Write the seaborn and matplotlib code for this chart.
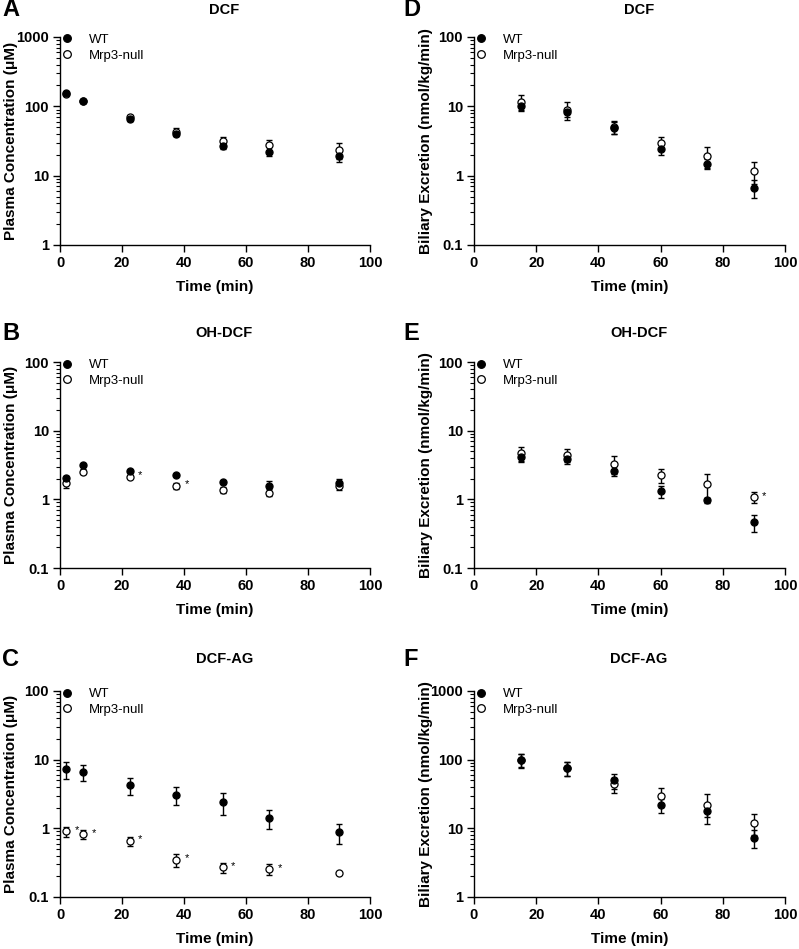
import numpy as np
import pandas as pd
import matplotlib
matplotlib.use("Agg")
import matplotlib.pyplot as plt
from matplotlib.lines import Line2D
from matplotlib.ticker import FuncFormatter, LogLocator, NullFormatter
import seaborn as sns

sns.set_theme(style="ticks")
plt.rcParams['font.family'] = ['Liberation Sans', 'DejaVu Sans']
plt.rcParams['text.color'] = 'black'
plt.rcParams['axes.labelcolor'] = 'black'
plt.rcParams['xtick.color'] = 'black'
plt.rcParams['ytick.color'] = 'black'

# sampling times
t_plasma = [2, 7.5, 22.5, 37.5, 52.5, 67.5, 90]
t_bile = [15, 30, 45, 60, 75, 90]

# A: DCF plasma
dcf_p_wt = [155, 120, 65, 40, 27, 22.3, 19.5]
dcf_p_wt_sem = [5, 4, 4, 3, 2.5, 3.4, 3.5]
dcf_p_ko = [150, 118, 70, 43, 32, 27.8, 23.5]
dcf_p_ko_sem = [6, 5, 4, 5, 4.5, 5, 6]

# B: OH-DCF plasma
oh_p_wt = [2.02, 3.16, 2.61, 2.26, 1.77, 1.58, 1.73]
oh_p_wt_sem = [0.18, 0.15, 0.1, 0.08, 0.1, 0.27, 0.22]
oh_p_ko = [1.75, 2.53, 2.14, 1.58, 1.37, 1.25, 1.58]
oh_p_ko_sem = [0.28, 0.2, 0.1, 0.15, 0.13, 0.15, 0.22]

# C: DCF-AG plasma
ag_p_wt = [7.2, 6.65, 4.25, 3.07, 2.4, 1.42, 0.88]
ag_p_wt_sem = [2.0, 1.8, 1.2, 0.9, 0.85, 0.45, 0.28]
ag_p_ko = [0.9, 0.82, 0.66, 0.35, 0.27, 0.256, 0.224]
ag_p_ko_sem = [0.16, 0.13, 0.1, 0.08, 0.045, 0.05, 0.005]

# D: DCF bile
dcf_b_wt = [10.2, 8.15, 4.95, 2.44, 1.48, 0.67]
dcf_b_wt_sem = [1.2, 1.2, 1.0, 0.45, 0.25, 0.2]
dcf_b_ko = [11.5, 8.9, 5.1, 3.0, 1.95, 1.17]
dcf_b_ko_sem = [3.0, 2.5, 1.1, 0.6, 0.65, 0.4]

# E: OH-DCF bile
oh_b_wt = [4.14, 3.87, 2.61, 1.31, 0.97, 0.46]
oh_b_wt_sem = [0.6, 0.55, 0.4, 0.28, 0.08, 0.13]
oh_b_ko = [4.73, 4.47, 3.3, 2.24, 1.69, 1.07]
oh_b_ko_sem = [1.1, 0.95, 0.95, 0.5, 0.65, 0.2]

# F: DCF-AG bile
ag_b_wt = [98, 76, 50, 22, 17.7, 7.3]
ag_b_wt_sem = [22, 18, 12, 5, 3, 2.2]
ag_b_ko = [100, 76, 43.5, 29.4, 21.7, 12.1]
ag_b_ko_sem = [22, 18, 11, 9, 10, 4]

plasma_label = 'Plasma Concentration (μM)'
bile_label = 'Biliary Excretion (nmol/kg/min)'

panels = [
    # letter, title, times, wt, wt_sem, ko, ko_sem, ylim, ylabel, star idx, rect(px), head offset(px)
    ('A', 'DCF', t_plasma, dcf_p_wt, dcf_p_wt_sem, dcf_p_ko, dcf_p_ko_sem, (1, 1000), plasma_label, [], (60, 37, 310, 208), 27),
    ('B', 'OH-DCF', t_plasma, oh_p_wt, oh_p_wt_sem, oh_p_ko, oh_p_ko_sem, (0.1, 100), plasma_label, [2, 3], (60, 362, 310, 206), 29),
    ('C', 'DCF-AG', t_plasma, ag_p_wt, ag_p_wt_sem, ag_p_ko, ag_p_ko_sem, (0.1, 100), plasma_label, [0, 1, 2, 3, 4, 5], (60, 691, 310, 206), 32),
    ('D', 'DCF', t_bile, dcf_b_wt, dcf_b_wt_sem, dcf_b_ko, dcf_b_ko_sem, (0.1, 100), bile_label, [], (474, 37, 311, 208), 27),
    ('E', 'OH-DCF', t_bile, oh_b_wt, oh_b_wt_sem, oh_b_ko, oh_b_ko_sem, (0.1, 100), bile_label, [5], (474, 362, 311, 206), 29),
    ('F', 'DCF-AG', t_bile, ag_b_wt, ag_b_wt_sem, ag_b_ko, ag_b_ko_sem, (1, 1000), bile_label, [], (474, 691, 311, 206), 32),
]

W, H = 799, 949
fig = plt.figure(figsize=(W / 100, H / 100), dpi=100)

for letter, title, times, wt, wt_sem, ko, ko_sem, ylim, ylabel, stars, rect, head in panels:
    l, t, w, h = rect
    ax = fig.add_axes([l / W, (H - t - h) / H, w / W, h / H])

    df = pd.DataFrame({'time': times, 'wt': wt, 'wt_sem': wt_sem, 'ko': ko, 'ko_sem': ko_sem})

    ax.errorbar(df['time'], df['ko'], yerr=df['ko_sem'], fmt='none', ecolor='black',
                elinewidth=1, capsize=2.5, capthick=1, zorder=2)
    ax.errorbar(df['time'], df['wt'], yerr=df['wt_sem'], fmt='none', ecolor='black',
                elinewidth=1, capsize=2.5, capthick=1, zorder=2)
    sns.scatterplot(data=df, x='time', y='ko', ax=ax, color='white', edgecolor='black',
                    linewidth=0.9, s=26, zorder=3)
    sns.scatterplot(data=df, x='time', y='wt', ax=ax, color='black', edgecolor='black',
                    linewidth=0.9, s=26, zorder=4)

    for i in stars:
        ax.annotate('*', (times[i], ko[i]), xytext=(6, 1), textcoords='offset points',
                    fontsize=8, ha='left', va='center')

    ax.set_yscale('log')
    ax.set_ylim(*ylim)
    ax.set_xlim(0, 100)
    ax.set_xticks([0, 20, 40, 60, 80, 100])
    ax.yaxis.set_major_locator(LogLocator(base=10))
    ax.yaxis.set_minor_locator(LogLocator(base=10, subs=np.arange(2, 10)))
    ax.yaxis.set_major_formatter(FuncFormatter(lambda v, p: '%g' % v))
    ax.yaxis.set_minor_formatter(NullFormatter())

    sns.despine(ax=ax)
    for sp in ['left', 'bottom']:
        ax.spines[sp].set_linewidth(1.0)
        ax.spines[sp].set_color('black')
    ax.tick_params(axis='both', which='major', direction='out', length=5, width=1,
                   color='black', labelcolor='black', labelsize=10.5, pad=3)
    ax.tick_params(axis='y', which='minor', direction='out', length=3, width=0.8, color='black')
    for lab in ax.get_xticklabels() + ax.get_yticklabels():
        lab.set_fontweight('bold')

    ax.set_xlabel('Time (min)', fontsize=11, fontweight='bold', labelpad=7)
    ax.set_ylabel(ylabel, fontsize=11, fontweight='bold')
    label_right = 18 if l == 60 else 433
    ax.yaxis.set_label_coords((label_right - l) / w, 0.5)

    ax.set_title(title, fontsize=10.5, fontweight='bold', x=0.53, y=1 + head / h, va='center', pad=0)
    letter_x = 2 if l == 60 else 403
    ax.text((letter_x - l) / w, 1 + head / h, letter, transform=ax.transAxes,
            fontsize=17, fontweight='bold', ha='left', va='center')

    handles = [Line2D([], [], ls='none', marker='o', markersize=5.5, markerfacecolor='black',
                      markeredgecolor='black', markeredgewidth=0.9),
               Line2D([], [], ls='none', marker='o', markersize=5.5, markerfacecolor='white',
                      markeredgecolor='black', markeredgewidth=0.9)]
    ax.legend(handles, ['WT', 'Mrp3-null'], loc='upper left', bbox_to_anchor=(0.005, 1.015),
              frameon=False, fontsize=9.5, handlelength=0.8, handletextpad=1.3,
              labelspacing=0.25, borderaxespad=0, borderpad=0)

fig.savefig('out.png', dpi=100)
